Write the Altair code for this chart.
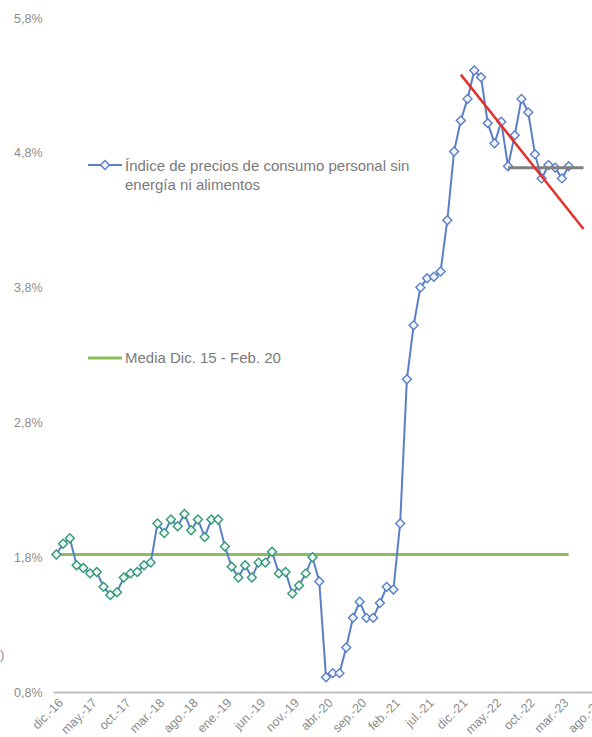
import altair as alt
import pandas as pd

# ---- data (monthly, dic-16 .. abr-23) ----
tick_labels = ["dic.-16", "may.-17", "oct.-17", "mar.-18", "ago.-18", "ene.-19",
               "jun.-19", "nov.-19", "abr.-20", "sep.-20", "feb.-21", "jul.-21",
               "dic.-21", "may.-22", "oct.-22", "mar.-23", "ago.-23"]
pce = [1.82, 1.90, 1.94, 1.74, 1.72, 1.68, 1.69, 1.58, 1.52, 1.54,
       1.65, 1.68, 1.69, 1.74, 1.76, 2.05, 1.98, 2.08, 2.03, 2.12,
       2.00, 2.08, 1.95, 2.08, 2.08, 1.88, 1.73, 1.65, 1.74, 1.65,
       1.76, 1.76, 1.84, 1.68, 1.69, 1.53, 1.59, 1.68, 1.80, 1.62,
       0.91, 0.94, 0.94, 1.13, 1.35, 1.47, 1.35, 1.35, 1.46, 1.58,
       1.56, 2.05, 3.12, 3.52, 3.80, 3.87, 3.88, 3.92, 4.30, 4.81,
       5.04, 5.20, 5.41, 5.36, 5.02, 4.87, 5.03, 4.70, 4.93, 5.20,
       5.10, 4.79, 4.61, 4.71, 4.69, 4.61, 4.70]
pre_covid_last = 38          # feb-20: markers up to here are green
mean_level = 1.82            # Media Dic. 15 - Feb. 20
recent_level = 4.69
recent_span = [67, 78.2]
trend_x = [60, 78.2]
trend_y = [5.38, 4.235]
y_ticks = [0.8, 1.8, 2.8, 3.8, 4.8, 5.8]
legend_1 = "Índice de precios de consumo personal sin\nenergía ni alimentos"
legend_2 = "Media Dic. 15 - Feb. 20"
cut_title = ")"

df = pd.DataFrame({"i": list(range(len(pce))), "v": pce})
df_pre = df[df.i <= pre_covid_last]
df_post = df[df.i > pre_covid_last]
mean_df = pd.DataFrame({"i": [0, len(pce) - 1], "v": [mean_level, mean_level]})
grey_df = pd.DataFrame({"i": recent_span, "v": [recent_level, recent_level]})
trend_df = pd.DataFrame({"i": trend_x, "v": trend_y})
one = pd.DataFrame({"a": [0]})

BLUE = "#5b7fc6"
TEAL = "#34977c"
GREEN = "#8cbd5a"
RED = "#e0312b"
GREY = "#7f7f7f"
LABEL = "#8c8c8c"
FONT = "Liberation Sans"

labels_js = "[" + ",".join("'" + t + "'" for t in tick_labels) + "]"

x_enc = alt.X("i:Q",
              scale=alt.Scale(domain=[-0.5, 80.5], range=[0, 546], nice=False, zero=False),
              axis=alt.Axis(values=list(range(0, 81, 5)), tickCount=30,
                            labelExpr=labels_js + "[round(datum.value/5)]",
                            labelAngle=-45, labelFontSize=12.5, labelColor=LABEL,
                            labelFont=FONT, labelPadding=4, ticks=False,
                            domainColor="#bfbfbf", domainWidth=2, grid=False,
                            title=None, labelOverlap=False, labelBound=False))
y_enc = alt.Y("v:Q",
              scale=alt.Scale(domain=[0.8, 5.8], nice=False, zero=False),
              axis=alt.Axis(values=y_ticks, tickCount=10,
                            labelExpr="replace(format(datum.value,'.1f'),'.',',') + '%'",
                            labelFontSize=12.5, labelColor=LABEL, labelFont=FONT,
                            labelPadding=11, ticks=False, domain=False, grid=False,
                            title=None))

mean_line = alt.Chart(mean_df).mark_line(color=GREEN, strokeWidth=3).encode(x=x_enc, y=y_enc)
main_line = alt.Chart(df).mark_line(color=BLUE, strokeWidth=2).encode(x=x_enc, y=y_enc)
pts_pre = alt.Chart(df_pre).mark_point(shape="diamond", size=80, filled=True, fill="#eef6f2",
                                       stroke=TEAL, strokeWidth=1.4, opacity=1).encode(x=x_enc, y=y_enc)
pts_post = alt.Chart(df_post).mark_point(shape="diamond", size=80, filled=True, fill="#f2f5fc",
                                         stroke=BLUE, strokeWidth=1.4, opacity=1).encode(x=x_enc, y=y_enc)
grey_line = alt.Chart(grey_df).mark_line(color=GREY, strokeWidth=3).encode(x=x_enc, y=y_enc)
trend_line = alt.Chart(trend_df).mark_line(color=RED, strokeWidth=2.5).encode(x=x_enc, y=y_enc)

# in-plot legend
leg1_line = alt.Chart(one).mark_rule(color=BLUE, strokeWidth=2).encode(
    x=alt.value(35), x2=alt.value(69), y=alt.value(147))
leg1_pt = alt.Chart(one).mark_point(shape="diamond", size=80, filled=True, fill="#f2f5fc",
                                    stroke=BLUE, strokeWidth=1.4, opacity=1).encode(
    x=alt.value(52), y=alt.value(147))
leg1_txt = alt.Chart(one).mark_text(align="left", baseline="alphabetic", fontSize=15,
                                    font=FONT, color="#7a7a7a", lineBreak="\n",
                                    lineHeight=19).encode(
    x=alt.value(72), y=alt.value(153), text=alt.value(legend_1))
leg2_line = alt.Chart(one).mark_rule(color=GREEN, strokeWidth=3).encode(
    x=alt.value(35), x2=alt.value(69), y=alt.value(340))
leg2_txt = alt.Chart(one).mark_text(align="left", baseline="alphabetic", fontSize=15,
                                    font=FONT, color="#7a7a7a").encode(
    x=alt.value(72), y=alt.value(345), text=alt.value(legend_2))
cut_txt = alt.Chart(one).mark_text(align="left", baseline="middle", fontSize=13,
                                   font=FONT, color=LABEL).encode(
    x=alt.value(-53), y=alt.value(637), text=alt.value(cut_title))

chart = alt.layer(
    mean_line, main_line, pts_pre, pts_post, grey_line, trend_line,
    leg1_line, leg1_pt, leg1_txt, leg2_line, leg2_txt, cut_txt
).properties(
    width=539, height=674,
    autosize=alt.AutoSizeParams(type="none"),
    padding={"left": 53, "top": 18, "right": 0, "bottom": 45},
    background="white"
).configure_view(stroke=None)

chart.save("out.html", embed_options={"renderer": "svg", "actions": False})
